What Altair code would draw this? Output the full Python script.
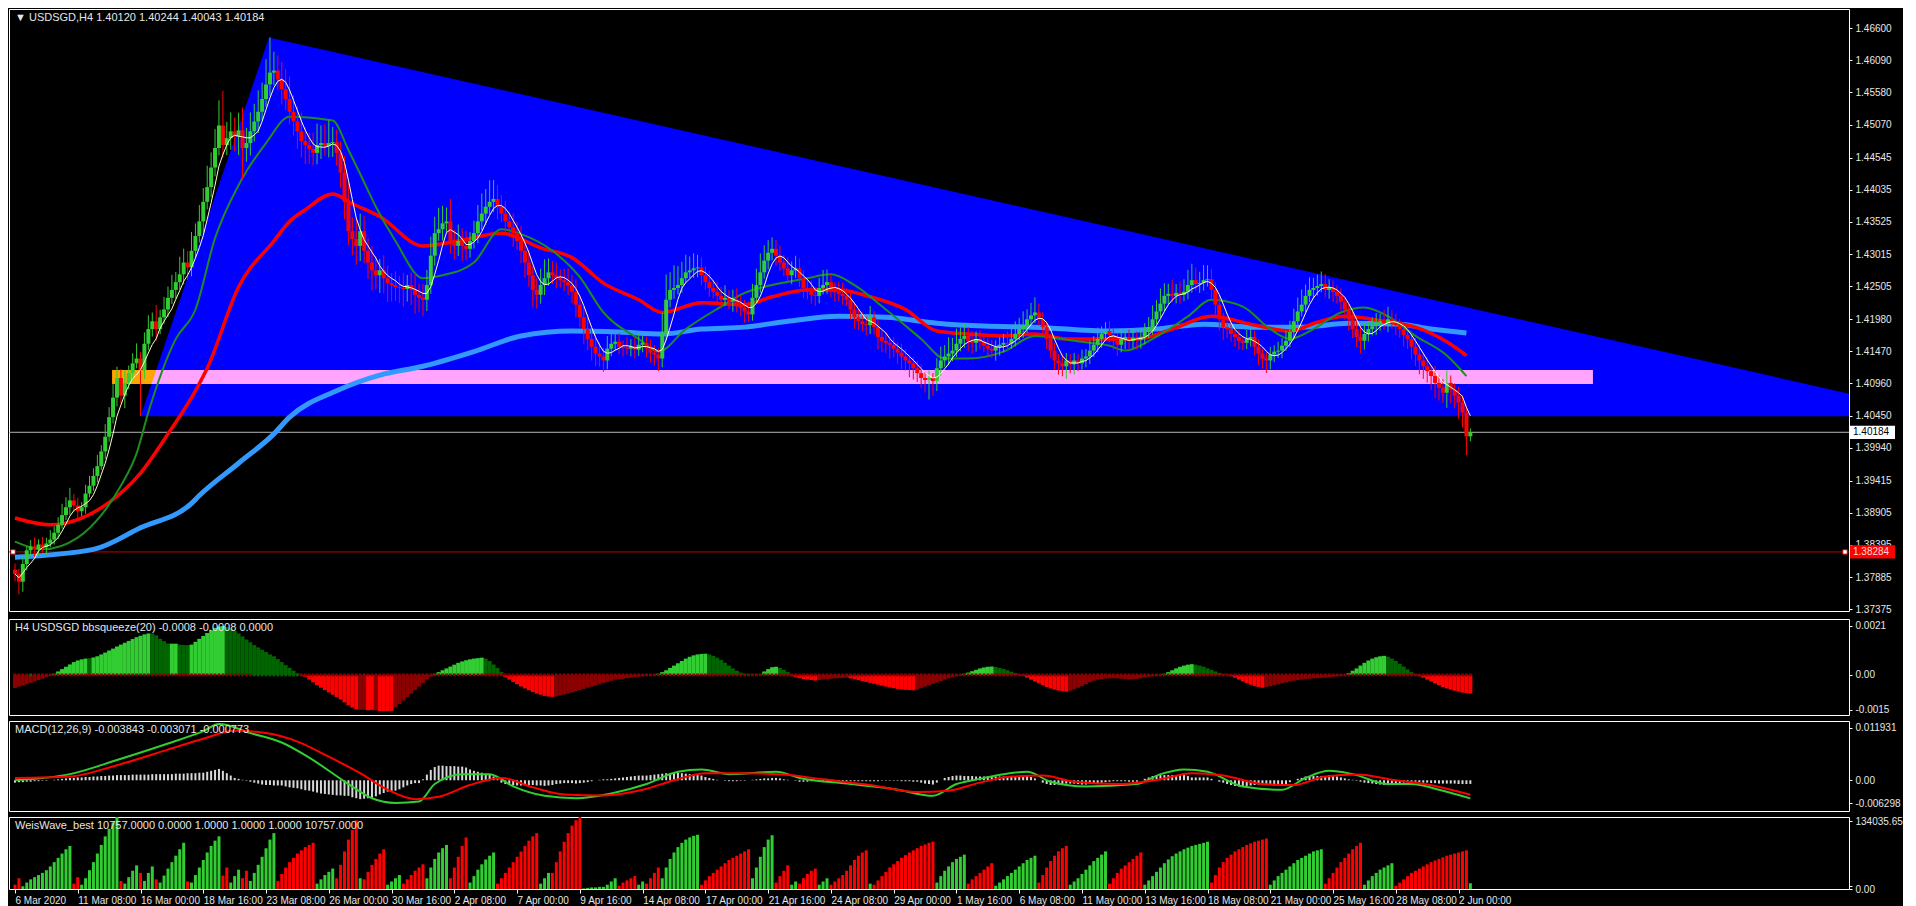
import altair as alt
import pandas as pd

W = 1840
H_MAIN, H_BB, H_MACD, H_WEIS = 602, 96, 90, 72
XDOM = [-0.25, 466.25]
FONT = "Liberation Sans"
TXT = "#E6E6E6"

# ---------------- price data (H4 bars, index 0 = 6 Mar 2020 16:00) ----------------
first_open = 1.3800
closes = [
    1.37936, 1.37812, 1.38092, 1.3831, 1.38372, 1.38325, 1.38403, 1.38356, 1.38418, 1.3848,
    1.38589, 1.38714, 1.38869, 1.38993, 1.39102, 1.39024, 1.38931, 1.38993, 1.39211, 1.39335,
    1.39491, 1.39646, 1.3988, 1.40113, 1.40424, 1.40735, 1.41046, 1.40766, 1.40968, 1.41123,
    1.41279, 1.41356, 1.4117, 1.4159, 1.41823, 1.41947, 1.41823, 1.42009, 1.42134, 1.4232,
    1.42445, 1.42569, 1.42693, 1.4288, 1.42802, 1.43066, 1.433, 1.43533, 1.43844, 1.44077,
    1.44388, 1.44699, 1.45056, 1.44745, 1.44854, 1.44963, 1.44885, 1.44979, 1.44699, 1.44777,
    1.44963, 1.45119, 1.45274, 1.45476, 1.45709, 1.45896, 1.45927, 1.45787, 1.45632, 1.45476,
    1.45274, 1.45119, 1.44963, 1.44808, 1.44745, 1.44683, 1.44621, 1.44745, 1.44777, 1.4473,
    1.44777, 1.44792, 1.44621, 1.4431, 1.43844, 1.43377, 1.43253, 1.43144, 1.43377, 1.43066,
    1.4288, 1.42756, 1.42678, 1.42756, 1.42631, 1.42553, 1.42522, 1.42491, 1.42476, 1.4246,
    1.42522, 1.42445, 1.42367, 1.4232, 1.42289, 1.42522, 1.42989, 1.43346, 1.43409, 1.43502,
    1.43533, 1.43222, 1.43144, 1.43222, 1.43144, 1.43098, 1.43222, 1.43346, 1.43533, 1.43657,
    1.43766, 1.43844, 1.4389, 1.43766, 1.43657, 1.43533, 1.4344, 1.43346, 1.43222, 1.43066,
    1.4288, 1.42678, 1.42445, 1.42367, 1.42522, 1.42631, 1.42724, 1.42678, 1.42631, 1.426,
    1.42569, 1.42522, 1.42414, 1.42211, 1.42009, 1.41823, 1.41667, 1.41543, 1.41434, 1.41388,
    1.41325, 1.41512, 1.4159, 1.41621, 1.41543, 1.41527, 1.41512, 1.41543, 1.41496, 1.41574,
    1.41605, 1.41512, 1.4145, 1.41419, 1.41356, 1.41745, 1.42289, 1.42445, 1.42476, 1.42522,
    1.42631, 1.42724, 1.42756, 1.42787, 1.42802, 1.42678, 1.42569, 1.42476, 1.42414, 1.42351,
    1.42289, 1.4232, 1.42258, 1.42289, 1.42211, 1.42165, 1.42103, 1.42056, 1.4232, 1.42522,
    1.42724, 1.42911, 1.43035, 1.43098, 1.42989, 1.4288, 1.42787, 1.42678, 1.42756, 1.42787,
    1.42631, 1.42476, 1.42414, 1.42367, 1.42351, 1.42476, 1.42522, 1.42569, 1.42445, 1.42414,
    1.42383, 1.42351, 1.42289, 1.42134, 1.42009, 1.41947, 1.41901, 1.41885, 1.42009, 1.41854,
    1.41698, 1.41636, 1.41605, 1.41574, 1.41512, 1.4145, 1.41388, 1.41325, 1.41279, 1.41201,
    1.41123, 1.41046, 1.41014, 1.41046, 1.40999, 1.41201, 1.41325, 1.41388, 1.41434, 1.41481,
    1.4159, 1.41667, 1.41714, 1.41636, 1.41605, 1.41667, 1.41621, 1.41559, 1.41512, 1.41481,
    1.41543, 1.41574, 1.41605, 1.4159, 1.41667, 1.41745, 1.41823, 1.41885, 1.41978, 1.4204,
    1.42087, 1.41978, 1.41854, 1.41667, 1.41481, 1.41325, 1.41279, 1.41232, 1.41325, 1.41263,
    1.41325, 1.41279, 1.41356, 1.41388, 1.41481, 1.41574, 1.41667, 1.41745, 1.41792, 1.4173,
    1.41636, 1.41574, 1.41667, 1.41698, 1.41636, 1.41683, 1.41652, 1.41698, 1.41776, 1.41854,
    1.41978, 1.42103, 1.42227, 1.42351, 1.42383, 1.42351, 1.42398, 1.42367, 1.42414, 1.42522,
    1.426, 1.42538, 1.42553, 1.426, 1.42616, 1.42445, 1.42211, 1.41978, 1.41854, 1.41823,
    1.41745, 1.41698, 1.41636, 1.41605, 1.41667, 1.41698, 1.41543, 1.41434, 1.41356, 1.41325,
    1.41419, 1.41465, 1.41481, 1.41559, 1.41636, 1.41776, 1.41947, 1.42103, 1.42211, 1.42351,
    1.42445, 1.42476, 1.42507, 1.42538, 1.42445, 1.42476, 1.42414, 1.42351, 1.42258, 1.42134,
    1.41978, 1.41823, 1.41698, 1.41636, 1.41745, 1.41823, 1.4187, 1.41916, 1.41947, 1.41916,
    1.41978, 1.41947, 1.41885, 1.41823, 1.4173, 1.41667, 1.41543, 1.41419, 1.41325, 1.41232,
    1.41154, 1.41077, 1.40968, 1.4089, 1.40812, 1.40968, 1.40859, 1.40766, 1.40657, 1.4050,
    1.4012, 1.40184,
]
# wick lengths in pips (0.0001) above the body and below the body
wick_up = [
    10, 8, 12, 6, 10, 14, 8, 12, 9, 15, 10, 12, 18, 16, 20, 10, 12, 8, 14, 16,
    12, 18, 10, 20, 16, 22, 18, 14, 20, 12, 16, 24, 10, 18, 22, 14, 26, 12, 20, 18,
    24, 16, 28, 22, 18, 30, 20, 26, 22, 34, 24, 30, 40, 55, 26, 30, 22, 28, 36, 24,
    30, 28, 34, 26, 40, 56, 30, 24, 28, 32, 36, 26, 24, 30, 22, 20, 26, 34, 28, 30,
    36, 24, 20, 18, 26, 30, 22, 34, 28, 24, 20, 26, 22, 18, 24, 20, 16, 22, 18, 24,
    16, 20, 26, 18, 22, 24, 30, 26, 34, 28, 22, 36, 18, 26, 20, 24, 14, 20, 26, 32,
    28, 34, 30, 22, 18, 20, 16, 22, 18, 24, 16, 20, 14, 18, 26, 30, 22, 18, 20, 14,
    18, 22, 16, 20, 14, 18, 22, 16, 20, 18, 14, 20, 16, 12, 14, 10, 16, 12, 14, 18,
    12, 10, 14, 12, 10, 34, 40, 28, 36, 30, 26, 28, 22, 24, 20, 16, 14, 18, 12, 16,
    14, 20, 12, 16, 18, 14, 12, 16, 22, 26, 30, 24, 20, 18, 14, 16, 12, 18, 14, 20,
    16, 12, 14, 18, 12, 16, 24, 20, 14, 12, 16, 18, 12, 14, 10, 12, 14, 12, 18, 10,
    12, 10, 14, 8, 12, 10, 14, 12, 8, 10, 12, 14, 10, 12, 8, 16, 22, 18, 26, 20,
    24, 18, 20, 14, 16, 12, 14, 10, 12, 14, 10, 12, 14, 18, 16, 20, 18, 22, 16, 20,
    24, 14, 12, 10, 8, 12, 10, 14, 12, 10, 12, 10, 14, 12, 16, 14, 18, 12, 14, 16,
    10, 12, 14, 10, 12, 14, 10, 12, 14, 16, 22, 18, 24, 20, 16, 22, 14, 18, 20, 24,
    26, 20, 18, 24, 22, 16, 12, 14, 10, 12, 14, 10, 12, 8, 14, 12, 10, 12, 8, 10,
    12, 10, 14, 12, 16, 18, 20, 22, 24, 18, 20, 16, 18, 20, 16, 14, 12, 10, 12, 8,
    10, 12, 14, 18, 16, 12, 14, 16, 12, 18, 20, 14, 12, 10, 8, 10, 12, 14, 16, 12,
    14, 10, 16, 12, 14, 20, 12, 10, 14, 12, 10, 6,
]
wick_dn = [
    12, 20, 16, 10, 8, 12, 10, 8, 12, 6, 8, 10, 6, 8, 12, 10, 14, 8, 10, 6,
    8, 10, 6, 12, 8, 10, 14, 12, 20, 10, 12, 8, 73, 14, 10, 12, 18, 8, 10, 12,
    10, 14, 12, 16, 20, 14, 12, 10, 18, 12, 16, 14, 12, 20, 16, 18, 24, 30, 50, 22,
    20, 16, 18, 14, 12, 18, 20, 16, 24, 18, 20, 22, 28, 26, 30, 24, 20, 18, 22, 16,
    18, 22, 20, 24, 28, 22, 26, 30, 24, 20, 26, 32, 22, 28, 24, 30, 26, 22, 24, 28,
    20, 24, 30, 22, 26, 18, 14, 16, 12, 18, 14, 20, 22, 16, 24, 18, 14, 12, 16, 14,
    18, 12, 16, 20, 14, 18, 16, 22, 14, 20, 24, 18, 26, 22, 14, 16, 12, 14, 16, 12,
    14, 16, 18, 20, 16, 24, 18, 22, 20, 16, 18, 14, 12, 10, 12, 14, 10, 12, 14, 10,
    12, 14, 16, 18, 20, 14, 10, 12, 14, 10, 12, 8, 10, 12, 14, 16, 12, 14, 10, 12,
    14, 10, 12, 16, 12, 14, 18, 12, 10, 8, 12, 10, 14, 12, 16, 14, 12, 10, 14, 12,
    14, 16, 12, 14, 16, 12, 10, 14, 12, 16, 12, 14, 10, 16, 18, 14, 12, 16, 14, 12,
    20, 18, 16, 22, 14, 18, 20, 16, 22, 18, 14, 16, 20, 31, 24, 16, 12, 10, 14, 12,
    10, 12, 14, 16, 18, 14, 12, 10, 14, 12, 16, 14, 12, 10, 8, 12, 10, 14, 12, 10,
    12, 10, 14, 16, 12, 14, 18, 16, 20, 14, 16, 12, 10, 14, 12, 10, 12, 14, 10, 12,
    14, 18, 12, 16, 14, 12, 16, 14, 12, 10, 12, 8, 10, 12, 14, 10, 12, 14, 10, 12,
    12, 10, 14, 12, 10, 14, 16, 18, 20, 14, 12, 16, 14, 12, 10, 12, 14, 18, 16, 20,
    14, 12, 10, 12, 8, 10, 12, 10, 8, 12, 10, 14, 12, 10, 12, 14, 16, 12, 14, 16,
    18, 14, 16, 20, 14, 12, 10, 14, 12, 10, 14, 12, 16, 14, 18, 16, 20, 18, 22, 20,
    18, 22, 24, 20, 16, 24, 22, 20, 26, 24, 30, 8,
]

# moving averages: (bar index, price)
ma_blue = [(0, 1.38201), (20, 1.38325), (32, 1.38667), (45, 1.39056), (47, 1.3918), (57, 1.39693),
           (66, 1.40159), (70, 1.40424), (82, 1.40843), (93, 1.41092), (104, 1.41232), (117, 1.41465),
           (129, 1.41714), (142, 1.41792), (154, 1.41776), (165, 1.41745), (175, 1.41823), (186, 1.41854),
           (197, 1.41947), (210, 1.42025), (222, 1.42009), (235, 1.41916), (247, 1.4187), (260, 1.41854),
           (279, 1.41792), (291, 1.41823), (303, 1.41901), (316, 1.41854), (328, 1.41854), (340, 1.41916),
           (353, 1.41901), (361, 1.41823), (370, 1.41761)]
ma_red = [(0, 1.38822), (9, 1.38714), (17, 1.38822), (24, 1.39071), (32, 1.39537), (39, 1.40159),
          (46, 1.40843), (49, 1.41201), (57, 1.42491), (66, 1.43222), (70, 1.43533), (74, 1.43719),
          (81, 1.43968), (86, 1.43813), (93, 1.43611), (104, 1.43144), (113, 1.43222), (124, 1.43346),
          (134, 1.43113), (142, 1.42958), (150, 1.42553), (159, 1.42289), (165, 1.42087), (175, 1.42242),
          (186, 1.42211), (193, 1.42336), (202, 1.42445), (210, 1.42445), (218, 1.42336), (227, 1.42134),
          (235, 1.41792), (243, 1.41745), (252, 1.41714), (260, 1.41745), (268, 1.41667), (279, 1.41667),
          (286, 1.41667), (295, 1.41823), (305, 1.42025), (315, 1.41901), (325, 1.41792), (332, 1.41932),
          (339, 1.42025), (349, 1.41947), (357, 1.41854), (365, 1.41621), (370, 1.41403)]
ma_green = [(0, 1.38449), (7, 1.38325), (16, 1.38512), (22, 1.38869), (27, 1.39335), (31, 1.39848),
            (34, 1.40502), (41, 1.41667), (46, 1.42134), (51, 1.43268), (57, 1.44108), (64, 1.44777),
            (70, 1.45196), (81, 1.45134), (85, 1.44668), (89, 1.44155), (92, 1.43766), (97, 1.43222),
            (104, 1.42631), (109, 1.42678), (117, 1.4288), (124, 1.43409), (129, 1.43331), (137, 1.43066),
            (144, 1.42647), (150, 1.42087), (159, 1.41667), (164, 1.41465), (171, 1.41823), (180, 1.4218),
            (186, 1.42398), (193, 1.42522), (202, 1.42631), (208, 1.42693), (214, 1.42522), (222, 1.42134),
            (231, 1.41667), (237, 1.41356), (243, 1.41356), (252, 1.41465), (260, 1.41714), (267, 1.41667),
            (272, 1.41621), (279, 1.41559), (283, 1.41481), (290, 1.41667), (299, 1.42025), (305, 1.42289),
            (313, 1.4218), (320, 1.41823), (325, 1.41667), (331, 1.41823), (338, 1.42087), (344, 1.42165),
            (350, 1.42025), (357, 1.41714), (365, 1.41403), (370, 1.41077)]

# chart objects: triangle (bar, price) vertices, rectangle, horizontal lines
triangle = [(32, 1.4044), (64.75, 1.46455), (493, 1.4044)]
rect_left, rect_mid, rect_right = 24.75, 36.0, 402.25
rect_lo, rect_hi = 1.40952, 1.41174
rect_edge_lo = 34.8
last_price = 1.40184
red_level = 1.38284

price_ticks = [1.466, 1.4609, 1.4558, 1.4507, 1.44545, 1.44035, 1.43525, 1.43015, 1.42505,
               1.4198, 1.4147, 1.4096, 1.4045, 1.3994, 1.39415, 1.38905, 1.38395, 1.37885, 1.37375]
x_labels = ["6 Mar 2020", "11 Mar 08:00", "16 Mar 00:00", "18 Mar 16:00", "23 Mar 08:00",
            "26 Mar 00:00", "30 Mar 16:00", "2 Apr 08:00", "7 Apr 00:00", "9 Apr 16:00",
            "14 Apr 08:00", "17 Apr 00:00", "21 Apr 16:00", "24 Apr 08:00", "29 Apr 00:00",
            "1 May 16:00", "6 May 08:00", "11 May 00:00", "13 May 16:00", "18 May 08:00",
            "21 May 00:00", "25 May 16:00", "28 May 08:00", "2 Jun 00:00"]
x_label_step = 16

# ---------------- bbsqueeze histogram (units of 0.00001) ----------------
bb_segments = [
    ("dr", [-56, -50, -45, -40, -34, -28, -22, -16, -10, -4]),
    ("lg", [5, 15, 25, 35, 45, 55, 62, 67, 70]),
    ("dg", [72]),
    ("lg", [75, 80, 88, 96, 105, 113, 122, 130, 138, 146, 154, 162, 168, 174, 178]),
    ("dg", [178, 170, 155, 145, 135]),
    ("lg", [134, 134]),
    ("dg", [130, 128, 128]),
    ("lg", [130, 142, 155, 167, 180, 192, 202, 208, 210]),
    ("dg", [206, 200, 190, 178, 165, 152, 140, 128, 118, 108, 98, 88, 80, 68, 55, 42, 30, 18, 6]),
    ("r", [-2, -8, -20, -32, -44, -55, -65, -75, -85, -95, -105, -118, -130, -140, -148]),
    ("dr", [-150, -150]),
    ("r", [-152, -150]),
    ("dr", [-152]),
    ("r", [-155, -155, -155, -154]),
    ("dr", [-140, -125, -110, -95, -80, -65, -50, -35, -20, -8]),
    ("lg", [5, 12, 20, 28, 36, 44, 52, 58, 63, 67, 70, 72, 74]),
    ("dg", [70, 60, 45, 30, 12]),
    ("r", [-10, -20, -30, -40, -50, -58, -66, -73, -80, -85, -90, -93, -94]),
    ("dr", [-92, -88, -84, -80, -75, -70, -65, -60, -55, -50, -45, -40, -35, -30, -25]),
    ("dr", [-20, -18, -16, -14, -12, -10, -8, -6, -4, -3, -2]),
    ("lg", [5, 12, 20, 30, 40, 50, 60, 70, 78, 84, 88, 90, 91]),
    ("dg", [88, 82, 74, 64, 52, 40, 28, 18, 10, 5, 3, 2, 2, 3]),
    ("lg", [15, 25, 33, 35]),
    ("dg", [30, 22, 12]),
    ("r", [-5, -10, -14, -18, -20, -22, -24]),
    ("dr", [-22, -20, -18, -16, -15, -14, -13, -12]),
    ("r", [-15, -18, -22, -26, -30, -34, -38, -42, -46, -50, -54, -57, -60, -62, -64, -65, -66]),
    ("dr", [-62, -56, -50, -44, -38, -32, -26, -20, -15, -10, -6, -3]),
    ("lg", [5, 10, 16, 22, 28, 32, 35, 36]),
    ("dg", [34, 30, 26, 20, 14, 8, 3]),
    ("r", [-5, -12, -20, -28, -36, -44, -52, -58, -63, -67, -70, -72]),
    ("dr", [-68, -62, -55, -48, -40, -32, -25]),
    ("dr", [-20, -18, -16, -15, -14, -15, -16, -18, -20, -19, -17, -14, -11, -8, -6, -4, -2]),
    ("lg", [5, 12, 20, 28, 35, 40, 44, 46]),
    ("dg", [44, 40, 35, 28, 22, 15, 9, 4, 1]),
    ("r", [-6, -12, -20, -28, -35, -42, -48, -52, -55]),
    ("dr", [-52, -48, -44, -40, -36, -32]),
    ("dr", [-28, -25, -22, -20, -18, -16, -15, -14, -13, -12, -10, -8, -6, -4, -2]),
    ("lg", [8, 18, 28, 40, 52, 62, 70, 76, 80, 82]),
    ("dg", [78, 70, 60, 48, 36, 24, 12, 4]),
    ("r", [-5, -12, -20, -28, -36, -44, -52, -58, -63, -68, -72, -76, -78, -80]),
]
bb_dot_green = [(4, 4), (61, 72)]

# ---------------- MACD (units of 0.0001) ----------------
macd_main = [(0, 0), (14, 13), (26, 43), (39, 78), (48, 104), (52, 119), (60, 100), (68, 80), (75, 48),
             (85, -8), (91, -38), (97, -48), (103, -45), (107, -8), (114, 13), (121, 13), (127, -13),
             (135, -33), (143, -38), (152, -28), (161, -8), (169, 18), (175, 23), (182, 13), (194, 18),
             (200, 5), (213, -8), (225, -20), (234, -33), (240, -8), (246, 3), (252, 13), (258, 18),
             (264, -3), (273, -13), (286, -8), (292, 13), (298, 23), (304, 18), (313, -13), (323, -20),
             (329, 5), (335, 20), (341, 13), (350, -8), (356, -8), (363, -20), (371, -38.43)]
macd_signal = [(0, 5), (14, 8), (26, 32), (39, 65), (48, 88), (56, 105), (64, 100), (72, 82), (80, 50),
               (88, 15), (95, -20), (102, -40), (108, -35), (116, -10), (124, 5), (132, -15), (140, -30),
               (150, -32), (160, -20), (168, 0), (176, 15), (186, 15), (196, 12), (206, 2), (218, -10),
               (230, -25), (238, -22), (246, -5), (254, 8), (262, 10), (270, -3), (282, -8), (292, 2),
               (300, 15), (308, 10), (318, -8), (326, -10), (334, 8), (342, 12), (352, 0), (362, -12),
               (371, -30.71)]
macd_hist = [
    -5, -4, -4, -3, -3, -2, -2, -1, -1, 0, 1, 2, 3, 4,
    5, 5, 6, 6, 7, 7, 8, 8, 9, 9, 10, 10,
    11, 11, 11, 11, 12, 12, 12, 12, 12, 13, 13, 13, 13,
    13, 13, 14, 14, 14, 15, 15, 15, 16,
    16, 18, 20, 22, 24, 20, 15, 10,
    5, 3, 1, -1, -3, -5, -7, -9,
    -10, -10, -11, -11, -11, -13, -15, -16, -17, -19, -21, -22, -24, -26, -28, -29,
    -30, -31, -32, -32, -33, -33, -36, -38, -40, -39, -38, -38, -34, -30, -27,
    -24, -23, -22, -19, -15, -11, -8, -6, -6, 2, 12, 22,
    28, 31, 31, 30, 30, 30, 29, 29, 27, 23, 20, 18, 16, 14,
    13, 8, 2, -5, -8, -10, -11, -11, -11, -10, -10, -10, -11, -11,
    -12, -11, -10, -8, -7, -6, -6, -6, -7, -6, -5, -4, -2, 0, 1,
    2, 2, 3, 4, 5, 6, 7, 8, 9, 10, 10, 10, 11, 12, 13,
    14, 15, 15, 16, 16, 15, 14, 13, 12, 11, 10, 7, 5, 3, 1,
    0, -1, -2, -2, -2, -1, -1, 0, 1, 2, 3, 4, 4, 5, 5,
    4, 2, 1, 0, -1, -3, -3, -3, -2, -2, -2, -2, -2, -2, -2,
    -2, -2, -2, -2, -2, -2, -2, -2, -2, -2, -2, -1, -1, -1, -1,
    -1, -2, -2, -2, -3, -3, -5, -7, -8, -9, -5, 0, 5, 7, 9,
    10, 10, 9, 9, 9, 8, 8, 8, 8, 8, 8, 8, 8, 7, 7,
    8, 8, 9, 9, 7, 4, 0, -5, -8, -10, -10, -9, -8, -7, -7,
    -7, -8, -9, -9, -8, -7, -6, -5, -4, -3, -2, -2, -2, -2, -3,
    -3, -3, 0, 3, 6, 9, 11, 11, 11, 11, 11, 11, 11, 11, 9,
    6, 6, 6, 6, 6, 3, 0, -3, -5, -8, -10, -12, -13, -13, -12,
    -11, -10, -9, -9, -9, -10, -11, -11, -11, -8, -4, 0, 3, 5, 8,
    8, 9, 9, 9, 9, 11, 10, 8, 6, 4, 2, 1, -1, -3, -5,
    -6, -7, -8, -9, -10, -10, -9, -8, -7, -5, -4, -3, -3, -4, -5,
    -5, -6, -6, -7, -7, -7, -7, -7, -8, -8, -8, -7.73,
]

# ---------------- Weis wave (thousands) : waves of (direction, cumulative values) ----------------
weis_waves = [
    ("r", [8, 20]),
    ("g", [5, 12, 18, 22, 26, 30, 35, 42, 50, 58, 66, 74, 80]),
    ("r", [10, 22]),
    ("g", [8, 20, 35, 50, 66, 82, 98, 112, 124, 134]),
    ("r", [15]),
    ("g", [10, 22, 34, 44]),
    ("r", [30]),
    ("g", [15, 30, 42]),
    ("r", [18]),
    ("g", [12, 25, 38, 50, 62, 74, 86]),
    ("r", [14]),
    ("g", [12, 26, 40, 54, 68, 80, 90, 98]),
    ("r", [25, 40]),
    ("g", [12, 24, 36]),
    ("r", [20, 34]),
    ("g", [15, 30, 45, 60, 76, 92, 104]),
    ("r", [15, 28, 40, 50, 58, 66, 72, 78, 82, 86]),
    ("g", [10, 18, 26, 32, 38]),
    ("r", [20, 45, 70, 92, 110, 128]),
    ("g", [20]),
    ("r", [18, 32, 45, 56, 66, 74]),
    ("g", [8, 14, 20, 26]),
    ("r", [10, 18, 26, 34, 40, 46]),
    ("g", [20, 40, 56, 68, 76, 82]),
    ("r", [20, 40, 60, 80, 96]),
    ("g", [12, 24, 36, 46, 55, 62, 68]),
    ("r", [10, 20, 30, 40, 50, 60, 70, 80, 90, 98, 104]),
    ("g", [10, 20, 30]),
    ("r", [30, 50, 70, 88, 104, 118, 128, 134]),
    ("g", [1, 2, 3, 3, 4, 4, 8, 14, 20]),
    ("r", [6, 12, 16, 20, 24]),
    ("g", [8, 14]),
    ("r", [10, 20, 30, 40]),
    ("g", [20, 40, 56, 68, 78, 86, 92, 96, 99, 101]),
    ("r", [8, 16, 24, 30, 36, 42, 48, 54, 58, 62, 66, 70, 74]),
    ("g", [20, 40, 60, 78, 92, 100]),
    ("r", [12, 24, 34, 44]),
    ("g", [8, 14]),
    ("r", [10, 20, 28, 34, 38]),
    ("g", [8, 14, 20]),
    ("r", [8, 14, 20, 26, 34, 44, 54, 62, 68, 72]),
    ("g", [10]),
    ("r", [8, 16, 24, 32, 40, 46, 52, 58, 63, 68, 72, 76, 80, 83, 86, 88]),
    ("g", [12, 24, 34, 42, 50, 56, 60, 64]),
    ("r", [10, 18, 24, 30, 36, 42, 48]),
    ("g", [6, 12, 18, 24, 30, 36, 42, 48, 54, 58, 62]),
    ("r", [12, 26, 40, 52, 62, 70, 76, 80]),
    ("g", [8, 14, 20, 28, 36, 44, 52, 58, 64, 70]),
    ("r", [10, 20, 30, 38, 44, 50, 56, 62, 68]),
    ("g", [8, 16, 24, 32, 40, 48, 55, 61, 66, 70, 74, 77, 80, 82, 84, 86, 88]),
    ("r", [12, 26, 40, 50, 58, 64, 70, 74, 78, 82, 85, 88, 90, 92, 94]),
    ("g", [8, 16, 24, 30, 36, 42, 48, 54, 58, 62, 66, 70, 72, 74]),
    ("r", [10, 20, 30, 40, 50, 58, 66, 74, 80, 86]),
    ("g", [8, 16, 24, 30, 36, 40, 44, 48]),
    ("r", [6, 12, 18, 24, 30, 34, 38, 42, 46, 50, 53, 56, 59, 62, 64, 66, 68, 70, 72]),
    ("g", [10.757]),
]

# ---------------- titles ----------------
t_main = "\u25BC USDSGD,H4  1.40120 1.40244 1.40043 1.40184"
t_bb = "H4 USDSGD bbsqueeze(20) -0.0008 -0.0008 0.0000"
t_macd = "MACD(12,26,9) -0.003843 -0.003071 -0.000773"
t_weis = "WeisWave_best 10757.0000 0.0000 1.0000 1.0000 1.0000 10757.0000"

# ======================================================================
opens = [first_open] + closes[:-1]
candles = pd.DataFrame({"i": list(range(len(closes))), "o": opens, "c": closes})
candles["hi"] = [max(o, c) + u * 0.0001 for o, c, u in zip(opens, closes, wick_up)]
candles["lo"] = [min(o, c) - d * 0.0001 for o, c, d in zip(opens, closes, wick_dn)]

XS = alt.Scale(domain=XDOM, nice=False, zero=False)
X = alt.X("i:Q", scale=XS, axis=None)

def rax(values, expr=None, fmt=None):
    kw = dict(orient="right", values=values, title=None, grid=False, domain=False, tickSize=3,
              tickColor="white", labelColor=TXT, labelFont=FONT, labelFontSize=10, labelPadding=3)
    if expr:
        kw["labelExpr"] = expr
    if fmt:
        kw["format"] = fmt
    return alt.Axis(**kw)

YS = alt.Scale(domain=[1.37346, 1.46906], nice=False, zero=False)
MAIN_AX = rax(price_ticks, fmt=".5f")

def ycol(field):
    return alt.Y(f"{field}:Q", scale=YS, axis=MAIN_AX)

tri_df = pd.DataFrame({"i": [v[0] for v in triangle], "p": [v[1] for v in triangle],
                       "b": [triangle[0][1]] * 3})
tri = alt.Chart(tri_df).mark_area(color="#0000FF", clip=True, opacity=1).encode(
    x=X, y=ycol("p"), y2="b:Q")

orange = alt.Chart(pd.DataFrame({"a": [rect_left], "b": [rect_mid], "lo": [rect_lo], "hi": [rect_hi]})
                   ).mark_rect(color="#FFA500").encode(
    x=alt.X("a:Q", scale=XS, axis=None), x2="b:Q", y=ycol("lo"), y2="hi:Q")
pink = alt.Chart(pd.DataFrame({"i": [rect_edge_lo, rect_mid, rect_right],
                               "lo": [rect_lo] * 3, "hi": [rect_lo, rect_hi, rect_hi]})
                 ).mark_area(color="#FFA5FF").encode(x=X, y=ycol("hi"), y2="lo:Q")

hl_df = pd.DataFrame({"p": [last_price, red_level], "col": ["#B4B4B4", "#C00000"]})
hlines = alt.Chart(hl_df).mark_rule(strokeWidth=1).encode(
    y=ycol("p"), x=alt.value(0), x2=alt.value(W), color=alt.Color("col:N", scale=None))
ends = alt.Chart(pd.DataFrame({"p": [red_level, red_level], "xp": [4, W - 4]})).mark_square(
    size=20, color="white", stroke="#C00000", strokeWidth=1, opacity=1, filled=True).encode(
    y=ycol("p"), x=alt.X("xp:Q", scale=None, axis=None))

def ma_layer(pts, color, width):
    df = pd.DataFrame({"i": [p[0] for p in pts], "p": [p[1] for p in pts]})
    return alt.Chart(df).mark_line(color=color, strokeWidth=width, interpolate="monotone",
                                   clip=True).encode(x=X, y=ycol("p"))

blue_ma = ma_layer(ma_blue, "#3399FF", 5)
red_ma = ma_layer(ma_red, "#FF0000", 3.5)
green_ma = ma_layer(ma_green, "#1E8C1E", 2)

cond = alt.condition("datum.c >= datum.o", alt.value("#32CD32"), alt.value("#FF0000"))
wicks = alt.Chart(candles).mark_rule(strokeWidth=1).encode(x=X, y=ycol("lo"), y2="hi:Q", color=cond)
bodies = alt.Chart(candles).mark_bar(size=4, minBandSize=2).encode(
    x=X, y=ycol("o"), y2="c:Q", color=cond)
white_ma = alt.Chart(candles).transform_window(
    sma="mean(c)", frame=[-4, 0], sort=[alt.SortField("i")]
).mark_line(color="#FFFFC8", strokeWidth=1).encode(x=X, y=ycol("sma"))

box_df = pd.DataFrame({"p": [last_price, red_level], "lab": ["1.40184", "1.38284"],
                       "fill": ["#FFFFFF", "#FF0000"], "tc": ["#000000", "#FFD8D8"]})
box_df["b0"] = box_df["p"] - 0.00105
box_df["b1"] = box_df["p"] + 0.00105
boxes = alt.Chart(box_df).mark_rect().encode(
    x=alt.value(W + 1), x2=alt.value(W + 46), y=ycol("b0"), y2="b1:Q",
    color=alt.Color("fill:N", scale=None))
box_txt = alt.Chart(box_df).mark_text(align="left", baseline="middle", font=FONT, fontSize=10).encode(
    x=alt.value(W + 4), y=ycol("p"), text="lab:N", color=alt.Color("tc:N", scale=None))

def title_layer(text):
    return alt.Chart(pd.DataFrame({"t": [text]})).mark_text(
        align="left", baseline="middle", font=FONT, fontSize=11, color=TXT).encode(
        x=alt.value(6), y=alt.value(9), text="t:N")

main = alt.layer(tri, orange, pink, hlines, ends, blue_ma, red_ma, green_ma, wicks, bodies,
                 white_ma, boxes, box_txt, title_layer(t_main)).properties(width=W, height=H_MAIN)

# ---------------- bbsqueeze panel ----------------
bb_rows, k = [], 0
for code, vals in bb_segments:
    for v in vals:
        bb_rows.append({"i": k, "v": v, "code": code})
        k += 1
bb_df = pd.DataFrame(bb_rows)
dot_df = pd.DataFrame([{"i": j, "z": 0,
                        "code": "dg" if any(a <= j <= b for a, b in bb_dot_green) else "dr"}
                       for j in range(len(closes))])
code_scale = alt.Scale(domain=["lg", "dg", "r", "dr"], range=["#32CD32", "#006400", "#FF0000", "#8B0000"])
BBS = alt.Scale(domain=[-172, 240], nice=False, zero=False)
BB_AX = rax([210, 0, -150], expr="datum.value == 210 ? '0.0021' : datum.value == 0 ? '0.00' : '-0.0015'")
bb_bars = alt.Chart(bb_df).mark_bar(size=4).encode(
    x=X, y=alt.Y("v:Q", scale=BBS, axis=BB_AX), y2=alt.datum(0),
    color=alt.Color("code:N", scale=code_scale, legend=None))
bb_dots = alt.Chart(dot_df).mark_square(size=8, opacity=1).encode(
    x=X, y=alt.Y("z:Q", scale=BBS, axis=BB_AX),
    color=alt.Color("code:N", scale=code_scale, legend=None))
bb = alt.layer(bb_bars, bb_dots, title_layer(t_bb)).properties(width=W, height=H_BB)

# ---------------- MACD panel ----------------
MS = alt.Scale(domain=[-65.1, 125.6], nice=False, zero=False)
M_AX = rax([110.9, 0, -48.3], expr="datum.value > 50 ? '0.011931' : datum.value == 0 ? '0.00' : '-0.006298'")
hist_df = pd.DataFrame({"i": list(range(len(macd_hist))), "v": macd_hist})
m_hist = alt.Chart(hist_df).mark_bar(size=2, color="#D8D8D8").encode(
    x=X, y=alt.Y("v:Q", scale=MS, axis=M_AX), y2=alt.datum(0))

def macd_line(pts, color):
    df = pd.DataFrame({"i": [p[0] for p in pts], "v": [p[1] for p in pts]})
    return alt.Chart(df).mark_line(color=color, strokeWidth=2, interpolate="monotone").encode(
        x=X, y=alt.Y("v:Q", scale=MS, axis=M_AX))

macd = alt.layer(m_hist, macd_line(macd_main, "#32CD32"), macd_line(macd_signal, "#FF0000"),
                 title_layer(t_macd)).properties(width=W, height=H_MACD)

# ---------------- Weis wave panel ----------------
w_rows, k = [], 0
for code, vals in weis_waves:
    for v in vals:
        w_rows.append({"i": k, "v": v * 1000, "code": code})
        k += 1
w_df = pd.DataFrame(w_rows)
WS = alt.Scale(domain=[0, 134035.65], nice=False, zero=True)
x_expr = "[" + ",".join(f"'{s}'" for s in x_labels) + f"][round(datum.value/{x_label_step})]"
x_axis = alt.Axis(values=[x_label_step * n for n in range(len(x_labels))], labelExpr=x_expr,
                  orient="bottom", labelAlign="left", labelPadding=2, tickSize=4, tickColor="white",
                  labelColor=TXT, labelFont=FONT, labelFontSize=10, domain=False, grid=False,
                  labelOverlap=False, labelFlush=False, labelBound=False, title=None)
W_AX = rax([126000, 6382.65, 0],
           expr="datum.value > 100000 ? '134035.65' : datum.value > 1000 ? '6382.65' : '0.00'")
XW = alt.X("i:Q", scale=XS, axis=x_axis)
w_bars = alt.Chart(w_df).mark_bar(size=3).encode(
    x=XW, y=alt.Y("v:Q", scale=WS, axis=W_AX), y2=alt.datum(0),
    color=alt.Color("code:N", scale=alt.Scale(domain=["g", "r"], range=["#32CD32", "#FF0000"]),
                    legend=None))
weis = alt.layer(w_bars, title_layer(t_weis)).properties(width=W, height=H_WEIS)

chart = alt.vconcat(main, bb, macd, weis, spacing=3).configure(
    background="#000000", padding={"left": 0, "top": 0, "right": 0, "bottom": 0}
).configure_view(stroke="#FFFFFF", strokeWidth=1)

chart.save("out.html", embed_options={"renderer": "svg", "actions": False})
